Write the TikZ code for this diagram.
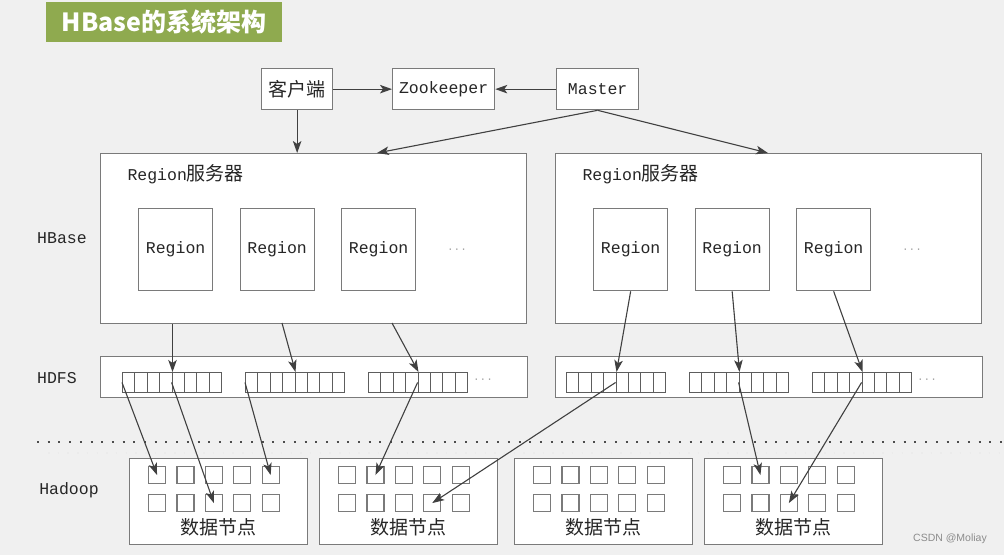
\documentclass[tikz,border=0pt]{standalone}
\usepackage{fontspec}
\usetikzlibrary{arrows.meta}
\setmainfont{Liberation Sans}
\newfontfamily\mono{Liberation Mono}
\newfontfamily\cjk{Noto Sans CJK SC}

\definecolor{bgcol}{HTML}{F0F0F0}
\definecolor{titlegreen}{HTML}{8FAA4F}
\definecolor{edgecol}{HTML}{7A7A7A}
\definecolor{linkcol}{HTML}{404040}

\tikzset{
	box/.style={draw=edgecol, line width=1.3pt, fill=white, inner sep=0pt, anchor=north west},
	cell/.style={draw=linkcol!85, line width=0.9pt, fill=white, inner sep=0pt, anchor=north west,
		minimum width=12.4pt, minimum height=20pt},
	sq/.style={draw=edgecol, line width=1.1pt, fill=white, inner sep=0pt, anchor=north west,
		minimum size=17pt},
	link/.style={draw=linkcol, line width=1.1pt, -{Stealth[length=12pt,width=8.5pt,inset=3pt]}},
	lbl/.style={font=\mono\fontsize{16.5}{18}\selectfont, text=black!85},
	zh/.style={font=\cjk\fontsize{19}{21}\selectfont, text=black!85},
	more/.style={font=\mono\fontsize{11}{12}\selectfont, text=black!35}
}

\begin{document}
\begin{tikzpicture}[x=1pt,y=-1pt]
		% background and title
		\fill[bgcol] (0,0) rectangle (1004,555);
		\useasboundingbox (0,0) rectangle (1004,555);
		\fill[titlegreen] (46,2) rectangle (282,42);
		\node[text=white, font=\cjk\bfseries\fontsize{25}{27}\selectfont] (title) at (164,22) {HBase的系统架构};

		% top row
		\node[box, lbl, minimum width=71pt, minimum height=41pt] (client) at (261,68) {\cjk\fontsize{19}{21}\selectfont 客户端};
		\node[box, lbl, minimum width=102pt, minimum height=41pt] (zk) at (392,68) {Zookeeper};
		\node[box, lbl, minimum width=82pt, minimum height=41pt] (master) at (556,68) {Master};

		% layer names
		\node[lbl] (hbase) at (62,238) {HBase};
		\node[lbl] (hdfs) at (57,378) {HDFS};
		\node[lbl] (hadoop) at (69,490) {Hadoop};

		% region servers
		\foreach \s/\x in {L/100,R/555}
		{
			\node[box, minimum width=426pt, minimum height=170pt] (srv\s) at (\x,153) {};
			\node[lbl, anchor=west] (srvlbl\s) at (\x+24,174) {Region{\cjk\fontsize{19}{21}\selectfont 服务器}};
			\foreach \i in {1,2,3}
			{
				\node[box, lbl, minimum width=74pt, minimum height=82pt] (reg\s\i) at (\x+38+\i*101.5-101.5,208) {Region};
			}
			\node[more] (regmore\s) at (\x+357,250) {...};
		}

		% HDFS bars with blocks
		\foreach \s/\x/\o in {L/100/22,R/555/11}
		{
			\node[box, minimum width=427pt, minimum height=41pt] (fs\s) at (\x,356) {};
			\foreach \g in {1,2,3}
			{
				\foreach \k in {1,2,...,8}
				{
					\node[cell] (c-\s\g-\k) at (\x+\o+\g*123-123+\k*12.4-12.4,372) {};
				}
			}
			\node[more] (fsmore\s) at (\x+\o+361,380) {...};
		}

		% separator
		\draw[black!70, line width=2pt, dash pattern=on 2pt off 8.7pt] (37,442) -- (1004,442);
		\draw[black!8, line width=1.5pt, dash pattern=on 1.5pt off 8.2pt] (48,453) -- (1004,453);

		% data nodes
		\foreach \b/\x in {1/129,2/319,3/514,4/704}
		{
			\node[box, minimum width=178pt, minimum height=86pt] (dn\b) at (\x,458) {};
			\foreach \r in {1,2}
			{
				\foreach \c in {1,2,...,5}
				{
					\node[sq] (sq-\b-\r-\c) at (\x+19+\c*28.4-28.4,438+\r*28) {};
				}
			}
			\node[zh] (dnlbl\b) at (\x+89,527) {数据节点};
		}

		\node[text=black!45, font=\fontsize{10.5}{12}\selectfont] (mark) at (950,539) {CSDN @Moliay};

		% connectors
		\coordinate (mL) at (377,153);
		\coordinate (mR) at (768,153);
		\coordinate (fromL2) at (282,323);
		\coordinate (fromL3) at (392,323);
		\draw[link] (client.east) -- (zk.west);
		\draw[link] (master.west) -- (zk.east);
		\draw[link] (client.south) -- (client.south |- srvL.north);
		\draw[link] (master.south) -- (mL);
		\draw[link] (master.south) -- (mR);

		\draw[link] (c-L1-4.north east |- srvL.south) -- (c-L1-4.north east);
		\draw[link] (fromL2) -- (c-L2-4.north east);
		\draw[link] (fromL3) -- (c-L3-4.north east);
		\foreach \i in {1,2,3}
			\draw[link] (regR\i.south) -- (c-R\i-4.north east);

		\draw[link] (c-L1-1.west) -- (sq-1-1-1.center);
		\draw[link] (c-L1-5.west) -- (sq-1-2-3.center);
		\draw[link] (c-L2-1.west) -- (sq-1-1-5.center);
		\draw[link] (c-L3-5.west) -- (sq-2-1-2.center);
		\draw[link] (c-R1-5.west) -- (sq-2-2-4.center);
		\draw[link] (c-R2-5.west) -- (sq-4-1-2.center);
		\draw[link] (c-R3-5.west) -- (sq-4-2-3.center);
	\end{tikzpicture}
\end{document}
